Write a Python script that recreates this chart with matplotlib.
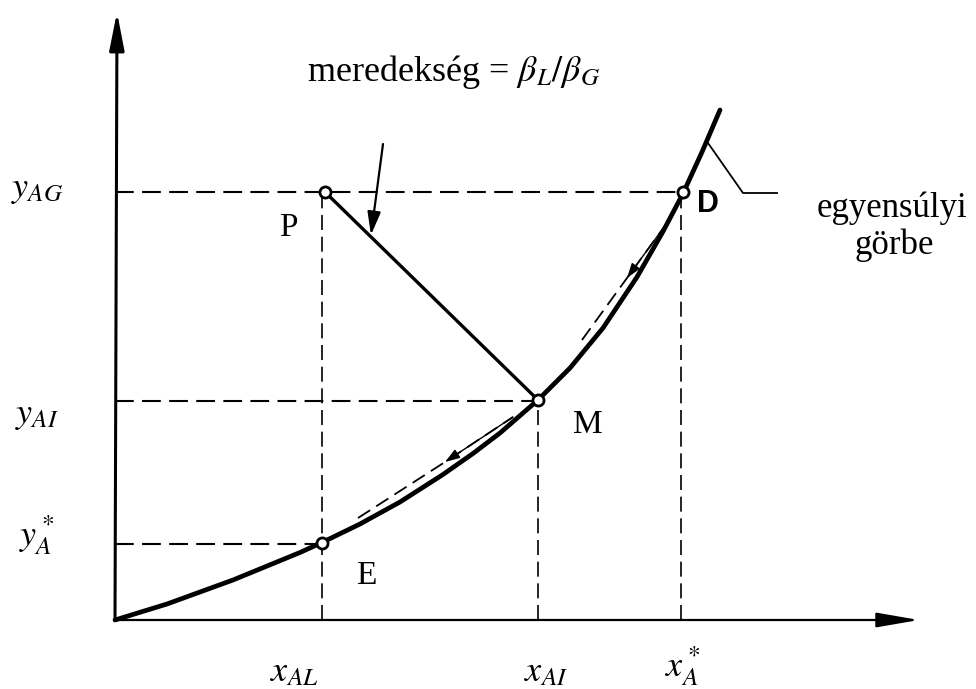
import matplotlib
matplotlib.use("Agg")
import matplotlib.pyplot as plt
from matplotlib.patches import ArrowStyle

plt.rcParams['mathtext.fontset'] = 'stix'
plt.rcParams['font.family'] = ['Liberation Serif', 'DejaVu Serif']

# Egyensúlyi görbe (leolvasott pontok, origó a tengelyek metszéspontja)
curve_x = [0, 52, 118, 185, 207, 245, 285, 328, 358, 385, 423, 455, 488, 522, 548, 568, 587, 605]
curve_y = [0, 16, 40, 67.5, 77.5, 96, 118, 145.5, 166.5, 187, 220, 252, 292, 343, 388.5, 426.5, 468, 510]

# Jellemző pontok
pont_nev = ["P", "M", "E", "D"]
pont_x = [210, 423, 207, 568]
pont_y = [428, 220, 77, 428]

# Tengelyfeliratok
x_ticks = [207, 423, 566]
x_labels = [r"$x_{AL}$", r"$x_{AI}$", r"$x_A^*$"]
y_ticks = [428, 219, 76]
y_labels = [r"$y_{AG}$", r"$y_{AI}$", r"$y_A^*$"]

# Lépcsőzés szaggatott vonalai a görbe mentén
lep1_x = [243, 330, 398]
lep1_y = [102, 158, 203]
lep2_x = [467, 512, 552]
lep2_y = [280, 342, 397]

fig = plt.figure(figsize=(9.76, 6.89), dpi=100)
ax = fig.add_axes([0, 0, 1, 1])
ax.set_xlim(-115, 861)
ax.set_ylim(-69, 620)
ax.axis("off")

# Tengelyek nyíllal
ax.annotate("", xy=(2, 608), xytext=(0, 0),
            arrowprops=dict(arrowstyle=ArrowStyle("-|>", head_length=2.3, head_width=0.45),
                            mutation_scale=10, lw=2.2, color="black",
                            shrinkA=0, shrinkB=0))
ax.annotate("", xy=(804, 0), xytext=(0, 0),
            arrowprops=dict(arrowstyle=ArrowStyle("-|>", head_length=2.6, head_width=0.45),
                            mutation_scale=10, lw=1.6, color="black",
                            shrinkA=0, shrinkB=0))

dash = (0, (9, 4))
# Vízszintes szaggatott vonalak
for yv, xe in zip(y_ticks, [pont_x[3], pont_x[1], pont_x[2]]):
    ax.plot([0, xe], [yv, yv], color="black", lw=1.5, linestyle=dash)
# Függőleges szaggatott vonalak
for xv, ye in zip(x_ticks, [pont_y[0], pont_y[1], pont_y[3]]):
    ax.plot([xv, xv], [0, ye], color="black", lw=1.2, linestyle=dash)

# Görbe
ax.plot(curve_x, curve_y, color="black", lw=3.4, solid_capstyle="round",
        solid_joinstyle="round")

# Munkavonal P-M
ax.plot([pont_x[0], pont_x[1]], [pont_y[0], pont_y[1]], color="black", lw=2.4)

# Lépcsők a görbe mentén
for lx, ly in [(lep1_x, lep1_y), (lep2_x, lep2_y)]:
    ax.plot(lx, ly, color="black", lw=1.3, linestyle=(0, (8, 4)))
    ax.annotate("", xy=(lx[1], ly[1]), xytext=(lx[2], ly[2]),
                arrowprops=dict(arrowstyle=ArrowStyle("-|>", head_length=0.9, head_width=0.3),
                                mutation_scale=10, lw=1, color="black",
                                shrinkA=0, shrinkB=0))

# Meredekség jelölő nyíl
ax.annotate("", xy=(256, 385), xytext=(268, 476),
            arrowprops=dict(arrowstyle=ArrowStyle("-|>", head_length=1.4, head_width=0.4),
                            mutation_scale=10, lw=1.6, color="black",
                            shrinkA=0, shrinkB=0))

# Egyensúlyi görbe mutatóvonala
ax.plot([593, 628, 662], [477, 427, 427], color="black", lw=1.3)

# Pontok
ax.plot(pont_x, pont_y, linestyle="none", marker="o", markersize=8,
        markerfacecolor="white", markeredgecolor="black", markeredgewidth=2, zorder=5)

# Pontok feliratai
ax.text(173, 392, "P", fontsize=24, ha="center", va="center")
ax.text(473, 195, "M", fontsize=24, ha="center", va="center")
ax.text(251, 44, "E", fontsize=24, ha="center", va="center")
ax.text(593, 416, "D", fontsize=22, ha="center", va="center",
        family="Liberation Sans", fontweight="bold")

# Tengelyfeliratok
for xv, yv, lab in zip([179, 431, 568], [-53, -53, -46], x_labels):
    ax.text(xv, yv, lab, fontsize=26, ha="center", va="center")
for yv, lab in zip([430, 205, 85], y_labels):
    ax.text(-78, yv, lab, fontsize=26, ha="center", va="center")

ax.text(339, 548, r"meredekség = $\beta_L/\beta_G$", fontsize=26,
        ha="center", va="center")
ax.text(777, 412, "egyensúlyi", fontsize=25, ha="center", va="center")
ax.text(779, 375, "görbe", fontsize=25, ha="center", va="center")

fig.savefig("out.png", dpi=100)
